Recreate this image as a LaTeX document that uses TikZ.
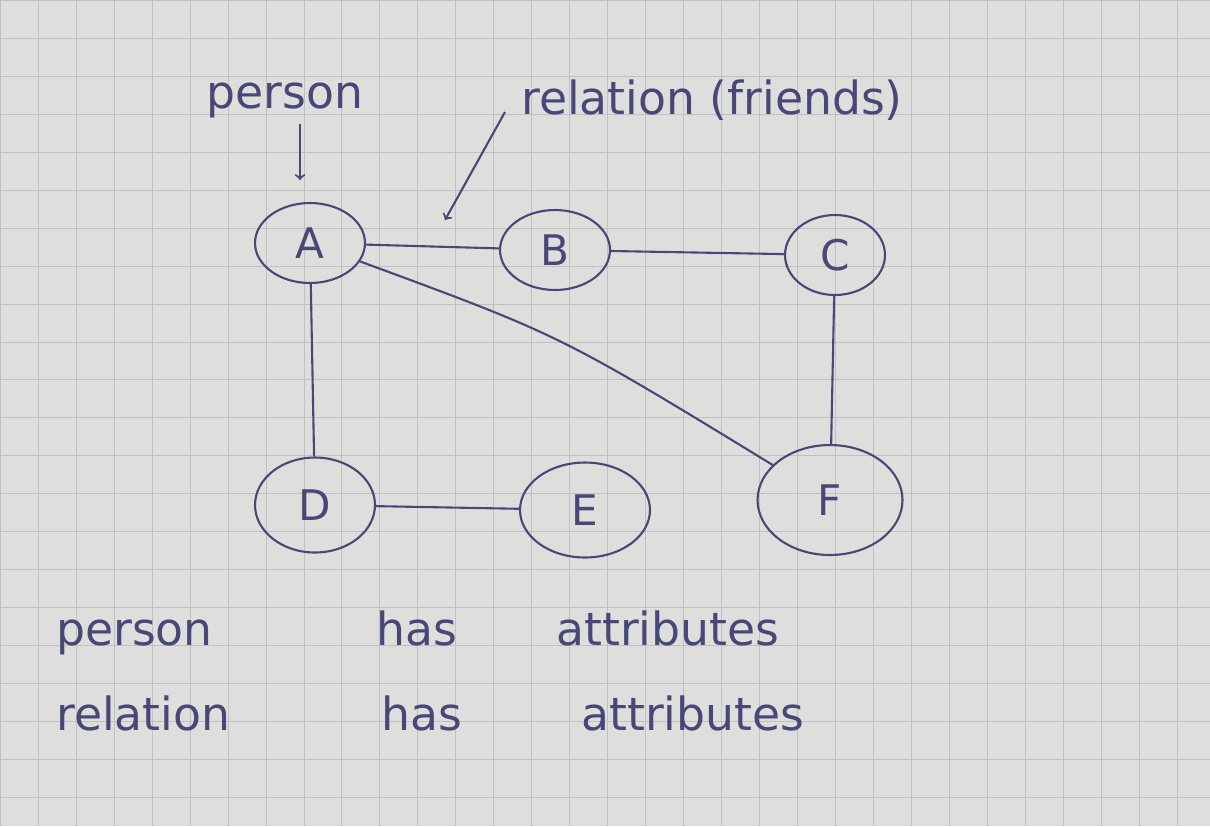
\documentclass[tikz,border=0pt]{standalone}
\usepackage{fontspec}
\setmainfont{DejaVu Sans}
\usetikzlibrary{shapes.geometric}
\definecolor{paper}{RGB}{222,222,220}
\definecolor{gridc}{RGB}{190,192,196}
\definecolor{pen}{RGB}{72,72,120}
\begin{document}
\begin{tikzpicture}[x=0.02cm,y=-0.02cm,
  vtx/.style={draw=pen,line width=1.2pt,ellipse,minimum height=1.6cm,text=pen,font=\fontsize{24}{26}\selectfont,inner sep=0pt},
  edge/.style={draw=pen,line width=1.2pt},
  hand/.style={text=pen,font=\fontsize{26}{30}\selectfont,anchor=base west},
  pointer/.style={draw=pen,line width=1.2pt,->}]
\fill[paper] (0,0) rectangle (1210,826);
\useasboundingbox (0,0) rectangle (1210,826);
\draw[gridc,line width=0.5pt,step=0.76cm] (0,0) grid (1210,826);
\node[vtx,minimum width=2.2cm] (A) at (310,243) {A};
\node[vtx,minimum width=2.2cm] (B) at (555,250) {B};
\node[vtx,minimum width=2.0cm] (C) at (835,255) {C};
\node[vtx,minimum width=2.4cm,minimum height=1.9cm] (D) at (315,505) {D};
\node[vtx,minimum width=2.6cm,minimum height=1.9cm] (E) at (585,510) {E};
\node[vtx,minimum width=2.9cm,minimum height=2.2cm] (F) at (830,500) {F};
\draw[edge] (A) -- (B);
\draw[edge] (B) -- (C);
\draw[edge] (A) -- (D);
\draw[edge] (D) -- (E);
\draw[edge] (C) -- (F);
\draw[edge] (A) .. controls (560,335) .. (F);
\node[hand,anchor=center] (lp) at (285,100) {person};
\node[hand,anchor=center] (lr) at (712,100) {relation (friends)};
\coordinate (pa) at (300,180);
\coordinate (ra) at (445,220);
\coordinate (rs) at (505,112);
\draw[pointer] (lp.south -| pa) -- (pa);
\draw[pointer] (rs) -- (ra);
\node[hand] (w1) at (50,645) {person};
\node[hand] (w2) at (370,645) {has};
\node[hand] (w3) at (550,645) {attributes};
\node[hand] (w4) at (50,730) {relation};
\node[hand] (w5) at (375,730) {has};
\node[hand] (w6) at (575,730) {attributes};
\end{tikzpicture}
\end{document}
